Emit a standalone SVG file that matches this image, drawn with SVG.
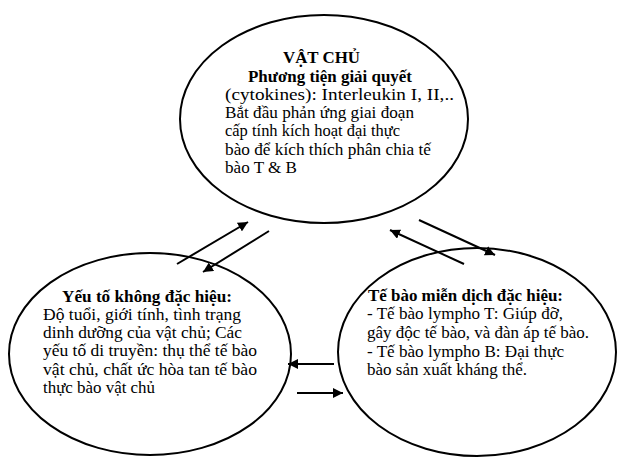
<svg xmlns="http://www.w3.org/2000/svg" width="617" height="457" viewBox="0 0 617 457">
  <defs>
    <marker id="arrow" viewBox="0 0 10 10" refX="10" refY="5" markerWidth="5" markerHeight="5" markerUnits="strokeWidth" orient="auto">
      <path d="M0,0 L10,5 L0,10 z" fill="#000"/>
    </marker>
    <style>
      .node { fill: none; stroke: #000; stroke-width: 2; }
      .conn { stroke: #000; stroke-width: 2; fill: none; marker-end: url(#arrow); }
      text { font-family: "Liberation Serif", "Times New Roman", serif; font-size: 17px; fill: #000; }
      .b { font-weight: bold; }
      .t { font-size: 16px; }
    </style>
  </defs>
  <rect width="617" height="457" fill="#fff"/>

  <g id="vat-chu">
    <ellipse class="node" cx="324" cy="119" rx="144" ry="104"/>
    <text class="b t" x="283" y="63" textLength="77" lengthAdjust="spacingAndGlyphs">VẬT CHỦ</text>
    <text class="b t" x="248" y="82" textLength="164" lengthAdjust="spacingAndGlyphs">Phương tiện giải quyết</text>
    <text x="225" y="100" textLength="229" lengthAdjust="spacingAndGlyphs">(cytokines): Interleukin I, II,..</text>
    <text x="225" y="118" textLength="189" lengthAdjust="spacingAndGlyphs">Bắt đầu phản ứng giai đoạn</text>
    <text x="225" y="136" textLength="175" lengthAdjust="spacingAndGlyphs">cấp tính kích hoạt đại thực</text>
    <text x="225" y="155" textLength="206" lengthAdjust="spacingAndGlyphs">bào để kích thích phân chia tế</text>
    <text x="225" y="173" textLength="72" lengthAdjust="spacingAndGlyphs">bào T &amp; B</text>
  </g>

  <g id="khong-dac-hieu">
    <ellipse class="node" cx="150" cy="354" rx="141" ry="101"/>
    <text class="b" x="62" y="302" textLength="170" lengthAdjust="spacingAndGlyphs">Yếu tố không đặc hiệu:</text>
    <text x="43" y="320" textLength="198" lengthAdjust="spacingAndGlyphs">Độ tuổi, giới tính, tình trạng</text>
    <text x="43" y="338" textLength="199" lengthAdjust="spacingAndGlyphs">dinh dưỡng của vật chủ; Các</text>
    <text x="43" y="356" textLength="214" lengthAdjust="spacingAndGlyphs">yếu tố di truyền: thụ thể tế bào</text>
    <text x="43" y="375" textLength="214" lengthAdjust="spacingAndGlyphs">vật chủ, chất ức hòa tan tế bào</text>
    <text x="43" y="393" textLength="112" lengthAdjust="spacingAndGlyphs">thực bào vật chủ</text>
  </g>

  <g id="mien-dich-dac-hieu">
    <ellipse class="node" cx="477" cy="352" rx="139" ry="104"/>
    <text class="b" x="368" y="301" textLength="195" lengthAdjust="spacingAndGlyphs">Tế bào miễn dịch đặc hiệu:</text>
    <text x="367" y="319" textLength="196" lengthAdjust="spacingAndGlyphs">- Tế bào lympho T: Giúp đỡ,</text>
    <text x="367" y="338" textLength="222" lengthAdjust="spacingAndGlyphs">gây độc tế bào, và đàn áp tế bào.</text>
    <text x="367" y="357" textLength="197" lengthAdjust="spacingAndGlyphs">- Tế bào lympho B: Đại thực</text>
    <text x="367" y="375" textLength="160" lengthAdjust="spacingAndGlyphs">bào sản xuất kháng thể.</text>
  </g>

  <g id="connectors">
    <line class="conn" x1="177" y1="264" x2="248" y2="222"/>
    <line class="conn" x1="269" y1="231" x2="203" y2="272"/>
    <line class="conn" x1="464" y1="264" x2="390" y2="230"/>
    <line class="conn" x1="419" y1="220" x2="495" y2="255"/>
    <line class="conn" x1="334" y1="364" x2="288" y2="364"/>
    <line class="conn" x1="297" y1="393" x2="343" y2="393"/>
  </g>
</svg>
